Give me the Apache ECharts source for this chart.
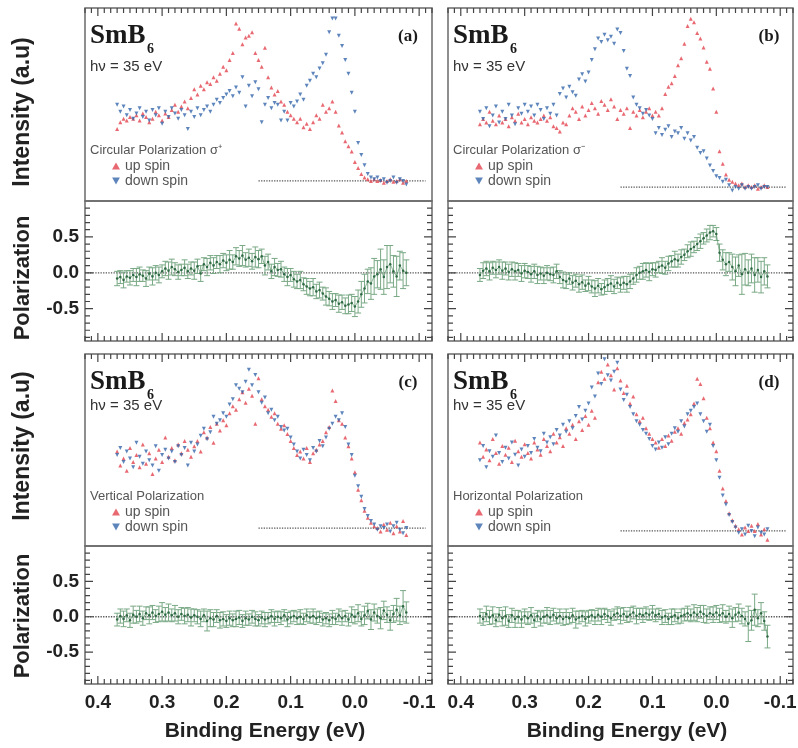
<!DOCTYPE html>
<html>
<head>
<meta charset="utf-8">
<script src="https://cdn.jsdelivr.net/npm/echarts@6/dist/echarts.min.js"></script>
<style>
html, body { margin: 0; padding: 0; background: #fff; }
#chart { width: 798px; height: 748px; }
</style>
</head>
<body>
<div id="chart"></div>
<script>
// Binding energy grid (eV), shared by every spectrum
const energy = [
  0.370,0.365,0.360,0.355,0.350,0.345,0.340,0.335,0.330,0.325,0.320,0.315,0.310,0.305,0.300,
  0.295,0.290,0.285,0.280,0.275,0.270,0.265,0.260,0.255,0.250,
  0.245,0.240,0.235,0.230,0.225,0.220,0.215,0.210,0.205,0.200,
  0.195,0.190,0.185,0.180,0.175,0.170,0.165,0.160,0.155,0.150,
  0.145,0.140,0.135,0.130,0.125,0.120,0.115,0.110,0.105,0.100,
  0.095,0.090,0.085,0.080,0.075,0.070,0.065,0.060,0.055,0.050,
  0.045,0.040,0.035,0.030,0.025,0.020,0.015,0.010,0.005,0.000,
  -0.005,-0.010,-0.015,-0.020,-0.025,-0.030,-0.035,-0.040,-0.045,-0.050,
  -0.055,-0.060,-0.065,-0.070,-0.075,-0.080
];

// (a) circular polarization sigma+
const upA = [
  0.30,0.34,0.36,0.35,0.37,0.36,0.38,0.35,0.39,0.37,0.34,0.36,0.40,0.38,0.35,
  0.39,0.37,0.41,0.44,0.40,0.43,0.46,0.42,0.48,0.53,
  0.50,0.55,0.53,0.57,0.56,0.60,0.58,0.62,0.66,0.64,
  0.70,0.74,0.91,0.88,0.79,0.83,0.84,0.86,0.74,0.70,
  0.66,0.77,0.60,0.54,0.50,0.52,0.46,0.44,0.40,0.38,
  0.36,0.34,0.36,0.31,0.33,0.30,0.34,0.38,0.36,0.44,
  0.40,0.42,0.46,0.40,0.32,0.28,0.23,0.20,0.17,0.11,
  0.075,0.04,0.02,0.01,0.00,0.01,0.00,0.005,-0.01,0.00,
  0.01,-0.005,0.00,0.01,-0.01,0.00
];
const downA = [
  0.44,0.40,0.43,0.38,0.41,0.36,0.39,0.42,0.37,0.40,0.35,0.41,0.38,0.42,0.33,
  0.40,0.37,0.42,0.39,0.36,0.41,0.38,0.30,0.40,0.37,
  0.42,0.38,0.41,0.43,0.40,0.44,0.47,0.45,0.48,0.50,
  0.52,0.49,0.54,0.51,0.60,0.43,0.55,0.49,0.57,0.53,
  0.34,0.44,0.48,0.42,0.45,0.44,0.35,0.40,0.35,0.45,
  0.43,0.46,0.50,0.47,0.55,0.58,0.62,0.60,0.65,0.68,
  0.73,0.86,0.94,0.94,0.84,0.78,0.70,0.62,0.51,0.40,
  0.22,0.15,0.09,0.04,0.02,0.01,0.02,0.00,0.01,-0.01,
  0.00,0.02,-0.01,0.01,0.00,-0.02
];
const polA = [
  -0.08,-0.06,-0.10,-0.05,-0.07,-0.03,-0.06,-0.02,-0.04,-0.08,-0.01,-0.05,0.00,-0.03,0.02,
  0.06,0.03,0.08,0.05,0.01,0.04,0.07,0.02,0.06,0.03,
  0.09,-0.01,0.12,0.08,0.14,0.10,0.15,0.12,0.17,0.14,
  0.18,0.15,0.23,0.20,0.24,0.18,0.21,0.16,0.22,0.19,
  0.23,0.10,0.15,0.02,0.08,0.04,0.05,-0.02,-0.06,-0.03,
  -0.09,-0.12,-0.10,-0.16,-0.19,-0.22,-0.20,-0.26,-0.24,-0.29,
  -0.33,-0.36,-0.40,-0.38,-0.43,-0.41,-0.46,-0.44,-0.42,-0.47,
  -0.40,-0.30,-0.22,-0.12,-0.15,-0.05,-0.02,0.05,-0.06,0.08,
  0.12,0.02,-0.05,0.10,0.03,0.00
];
const errA = [
  0.10,0.09,0.11,0.08,0.10,0.09,0.12,0.10,0.08,0.11,0.09,0.12,0.10,0.11,0.09,
  0.10,0.12,0.11,0.09,0.10,0.08,0.11,0.10,0.09,0.12,
  0.10,0.11,0.09,0.12,0.10,0.11,0.09,0.12,0.10,0.11,
  0.13,0.10,0.12,0.11,0.14,0.10,0.12,0.11,0.14,0.12,
  0.10,0.13,0.11,0.10,0.12,0.09,0.11,0.10,0.12,0.09,
  0.11,0.10,0.12,0.09,0.11,0.10,0.12,0.10,0.11,0.09,
  0.12,0.10,0.11,0.09,0.12,0.10,0.11,0.13,0.12,0.14,
  0.16,0.18,0.20,0.17,0.22,0.25,0.19,0.28,0.24,0.30,
  0.26,0.22,0.28,0.20,0.25,0.18
];

// (b) circular polarization sigma-
const upB = [
  0.35,0.38,0.36,0.42,0.37,0.35,0.40,0.36,0.38,0.34,0.39,0.37,0.41,0.36,0.38,
  0.35,0.39,0.37,0.36,0.38,0.40,0.37,0.39,0.34,0.33,
  0.31,0.36,0.35,0.40,0.44,0.42,0.38,0.45,0.40,0.43,
  0.47,0.44,0.41,0.48,0.46,0.43,0.49,0.45,0.38,0.43,
  0.41,0.44,0.33,0.42,0.40,0.43,0.39,0.42,0.44,0.40,
  0.42,0.40,0.44,0.52,0.56,0.58,0.62,0.68,0.72,0.80,
  0.90,0.94,0.92,0.86,0.83,0.78,0.70,0.66,0.55,0.42,
  0.20,0.13,0.07,0.04,0.03,0.02,0.01,0.02,0.00,0.01,
  0.00,0.01,-0.01,0.00,0.01,0.00
];
const downB = [
  0.42,0.38,0.44,0.34,0.40,0.45,0.36,0.42,0.38,0.46,0.40,0.35,0.44,0.41,0.46,
  0.42,0.45,0.40,0.46,0.43,0.38,0.44,0.41,0.46,0.40,
  0.52,0.55,0.50,0.56,0.53,0.51,0.60,0.63,0.59,0.64,
  0.71,0.77,0.83,0.81,0.85,0.82,0.84,0.80,0.88,0.86,
  0.76,0.66,0.62,0.50,0.46,0.44,0.41,0.43,0.40,0.38,
  0.30,0.33,0.29,0.32,0.34,0.28,0.31,0.30,0.33,0.27,
  0.30,0.26,0.28,0.22,0.19,0.20,0.16,0.12,0.09,0.06,
  0.05,0.03,0.04,0.01,-0.02,0.00,-0.01,0.01,-0.01,0.00,
  -0.01,0.00,0.01,-0.01,0.00,0.00
];
const polB = [
  -0.03,0.03,0.06,0.02,0.07,0.04,0.08,0.03,0.06,0.01,0.05,0.02,0.04,-0.01,0.03,
  0.01,-0.02,0.02,-0.03,-0.01,-0.04,0.00,-0.02,-0.03,0.02,
  -0.06,-0.10,-0.12,-0.08,-0.14,-0.11,-0.16,-0.13,-0.18,-0.15,
  -0.19,-0.22,-0.18,-0.23,-0.20,-0.17,-0.15,-0.19,-0.14,-0.17,
  -0.14,-0.16,-0.12,-0.08,-0.03,0.00,0.02,0.04,0.01,0.05,
  0.04,0.08,0.10,0.07,0.13,0.16,0.19,0.17,0.22,0.25,
  0.30,0.33,0.36,0.40,0.44,0.48,0.52,0.56,0.58,0.54,
  0.28,0.18,0.12,0.15,0.08,0.02,0.10,-0.02,0.05,0.00,
  0.06,-0.03,0.04,-0.06,0.02,-0.05
];
const errB = [
  0.09,0.11,0.10,0.12,0.09,0.11,0.10,0.12,0.09,0.11,0.10,0.12,0.09,0.11,0.10,
  0.09,0.11,0.10,0.12,0.09,0.11,0.10,0.09,0.11,0.10,
  0.09,0.11,0.10,0.08,0.10,0.09,0.11,0.10,0.08,0.10,
  0.09,0.11,0.10,0.08,0.10,0.09,0.11,0.10,0.08,0.10,
  0.09,0.11,0.10,0.08,0.10,0.09,0.11,0.10,0.12,0.09,
  0.10,0.08,0.11,0.09,0.10,0.08,0.11,0.09,0.10,0.08,
  0.09,0.10,0.08,0.09,0.10,0.08,0.09,0.10,0.08,0.09,
  0.12,0.14,0.16,0.13,0.18,0.20,0.15,0.28,0.22,0.18,
  0.20,0.24,0.17,0.22,0.19,0.16
];

// (c) vertical polarization
const upC = [
  0.44,0.36,0.40,0.33,0.46,0.38,0.42,0.35,0.48,0.37,0.43,0.31,0.40,0.45,0.38,
  0.52,0.41,0.46,0.39,0.48,0.43,0.50,0.45,0.41,0.47,
  0.50,0.44,0.55,0.52,0.58,0.49,0.60,0.56,0.62,0.59,
  0.66,0.70,0.68,0.74,0.78,0.72,0.80,0.76,0.60,0.86,
  0.74,0.70,0.68,0.64,0.66,0.60,0.57,0.59,0.54,0.50,
  0.46,0.42,0.44,0.40,0.46,0.38,0.43,0.45,0.48,0.50,
  0.55,0.58,0.79,0.73,0.62,0.60,0.52,0.47,0.40,0.32,
  0.22,0.16,0.10,0.06,0.03,0.01,0.00,-0.02,0.02,-0.01,
  0.03,-0.03,0.01,-0.02,0.04,-0.04
];
const downC = [
  0.42,0.46,0.38,0.44,0.40,0.35,0.49,0.41,0.37,0.44,0.39,0.36,0.47,0.33,0.42,
  0.45,0.40,0.44,0.38,0.47,0.42,0.46,0.36,0.49,0.44,
  0.48,0.53,0.57,0.51,0.55,0.64,0.60,0.62,0.66,0.64,
  0.71,0.74,0.82,0.80,0.78,0.84,0.91,0.82,0.88,0.78,
  0.72,0.75,0.66,0.68,0.62,0.64,0.58,0.56,0.57,0.52,
  0.48,0.44,0.40,0.45,0.42,0.39,0.46,0.44,0.50,0.47,
  0.52,0.57,0.60,0.64,0.62,0.66,0.58,0.48,0.42,0.30,
  0.24,0.18,0.11,0.07,0.04,0.02,-0.01,0.01,0.00,0.02,
  -0.02,0.01,0.03,-0.01,-0.03,0.00
];
const polC = [
  -0.04,0.01,-0.03,0.02,-0.05,0.03,0.00,0.04,-0.02,0.05,0.02,0.06,0.01,0.04,0.07,
  0.03,0.06,0.02,0.05,0.00,0.04,0.01,0.03,-0.01,0.02,
  0.00,-0.03,0.02,-0.06,-0.02,-0.04,0.01,-0.05,-0.03,-0.06,
  -0.02,-0.05,-0.03,-0.01,-0.06,-0.02,-0.04,0.00,-0.03,-0.05,
  -0.01,-0.04,-0.02,0.01,-0.03,0.00,-0.02,0.02,-0.04,-0.01,
  0.01,-0.02,0.00,-0.03,0.02,-0.01,0.01,-0.02,0.00,-0.04,
  -0.02,-0.05,-0.01,-0.03,0.02,-0.02,0.01,-0.04,0.03,0.00,
  0.05,-0.03,0.02,0.08,-0.04,0.06,0.01,-0.02,0.09,0.03,
  -0.05,0.04,0.10,0.02,0.15,0.06
];
const errC = [
  0.09,0.10,0.11,0.09,0.10,0.12,0.09,0.11,0.10,0.09,0.12,0.10,0.09,0.11,0.13,
  0.10,0.12,0.09,0.11,0.10,0.09,0.11,0.10,0.12,0.09,
  0.10,0.11,0.09,0.14,0.12,0.10,0.09,0.11,0.10,0.09,
  0.10,0.09,0.11,0.10,0.09,0.10,0.08,0.09,0.10,0.08,
  0.09,0.10,0.08,0.09,0.10,0.08,0.09,0.08,0.10,0.09,
  0.08,0.09,0.10,0.08,0.09,0.08,0.10,0.09,0.08,0.09,
  0.08,0.09,0.10,0.08,0.09,0.10,0.08,0.09,0.11,0.10,
  0.12,0.10,0.13,0.11,0.14,0.12,0.10,0.15,0.13,0.11,
  0.14,0.12,0.16,0.13,0.22,0.15
];

// (d) horizontal polarization
const upD = [
  0.50,0.42,0.46,0.40,0.52,0.44,0.38,0.48,0.43,0.47,0.39,0.51,0.45,0.42,0.49,
  0.44,0.41,0.50,0.46,0.43,0.52,0.48,0.45,0.55,0.50,
  0.53,0.48,0.58,0.55,0.60,0.52,0.62,0.57,0.65,0.60,
  0.68,0.64,0.84,0.90,0.86,0.94,0.88,0.80,0.92,0.85,
  0.78,0.82,0.72,0.76,0.66,0.62,0.64,0.58,0.55,0.52,
  0.50,0.47,0.52,0.48,0.54,0.51,0.56,0.58,0.55,0.61,
  0.63,0.66,0.72,0.86,0.83,0.75,0.64,0.58,0.50,0.45,
  0.34,0.24,0.17,0.10,0.06,0.03,0.01,-0.02,0.02,0.00,
  0.03,0.00,0.04,-0.02,0.01,-0.05
];
const downD = [
  0.40,0.48,0.36,0.45,0.42,0.54,0.44,0.39,0.47,0.41,0.50,0.43,0.37,0.46,0.42,
  0.48,0.44,0.52,0.47,0.45,0.55,0.50,0.53,0.49,0.57,
  0.54,0.60,0.56,0.62,0.58,0.65,0.70,0.63,0.68,0.72,
  0.81,0.76,0.89,0.83,0.97,0.88,0.85,0.90,0.95,0.80,
  0.74,0.77,0.70,0.66,0.62,0.60,0.57,0.55,0.52,0.48,
  0.46,0.50,0.47,0.53,0.49,0.55,0.58,0.56,0.62,0.59,
  0.66,0.68,0.70,0.72,0.66,0.62,0.56,0.60,0.48,0.40,
  0.30,0.20,0.15,0.09,0.05,0.02,-0.01,0.01,-0.02,0.03,
  0.00,-0.03,0.02,-0.01,-0.02,0.01
];
const polD = [
  0.01,-0.03,0.04,-0.01,0.02,-0.05,0.03,-0.02,0.01,-0.06,0.02,-0.03,0.00,-0.04,0.01,
  -0.02,0.02,-0.05,0.01,-0.03,0.00,0.02,-0.01,0.03,-0.02,
  0.01,-0.03,0.00,-0.02,0.02,-0.04,-0.01,0.01,-0.03,0.00,
  0.02,-0.01,0.03,0.00,0.04,0.01,-0.02,0.03,0.05,0.01,
  0.04,0.00,0.03,0.06,0.01,0.04,0.02,0.05,0.03,0.06,
  0.02,0.04,-0.01,0.01,-0.03,0.00,0.02,-0.02,0.01,0.03,
  0.05,0.02,0.06,0.03,0.07,0.04,0.01,0.05,0.03,0.06,
  0.02,0.05,0.00,0.04,-0.02,0.03,0.06,0.01,-0.03,-0.10,
  -0.05,0.10,-0.02,0.05,-0.06,-0.28
];
const errD = [
  0.10,0.09,0.11,0.10,0.12,0.09,0.10,0.11,0.13,0.09,0.10,0.12,0.09,0.11,0.10,
  0.09,0.11,0.10,0.08,0.10,0.09,0.11,0.10,0.09,0.08,
  0.10,0.09,0.11,0.08,0.10,0.12,0.09,0.08,0.10,0.09,
  0.08,0.10,0.09,0.11,0.08,0.09,0.10,0.08,0.09,0.11,
  0.09,0.08,0.10,0.09,0.11,0.08,0.10,0.09,0.08,0.10,
  0.09,0.08,0.10,0.09,0.08,0.11,0.09,0.08,0.10,0.09,
  0.10,0.09,0.11,0.10,0.09,0.12,0.10,0.09,0.11,0.10,
  0.10,0.12,0.09,0.11,0.13,0.10,0.12,0.11,0.10,0.25,
  0.14,0.22,0.12,0.15,0.13,0.16
];

// Zero-intensity reference segment (eV)
const baselineSpan = [0.15, -0.11];

// Tick labels
const xTickLabels = [0.4, 0.3, 0.2, 0.1, 0.0, -0.1];
const yTickLabels = [0.5, 0.0, -0.5];

// Panel annotations
const panelLetters = ['(a)', '(b)', '(c)', '(d)'];
const polarizationModes = [
  'Circular Polarization σ\u207A',
  'Circular Polarization σ\u207B',
  'Vertical Polarization',
  'Horizontal Polarization'
];
const sampleName = 'SmB';
const sampleSub = '6';
const photonEnergy = 'hν = 35 eV';
const spinNames = ['up spin', 'down spin'];

// ---------------------------------------------------------------
const X_MIN = -0.12, X_MAX = 0.42;
const POL_MIN = -0.95, POL_MAX = 1.0;
const RED = '#e2444f', BLUE = '#3466aa';
const GREEN_BAR = '#79a985', GREEN_PT = '#2f6a44';
const AXIS_C = '#6a6a6a';
const TICK_C = '#444';
const SANS = '"Liberation Sans", Arial, sans-serif';
const SERIF = '"Liberation Serif", "Times New Roman", serif';

// tick positions along the frames
const minorX = [];
for (let k = -12; k <= 42; k++) if (k % 10 !== 0) minorX.push(k / 100);
const minorY = [];
for (let k = -9; k <= 9; k++) if (k % 5 !== 0) minorY.push(k / 10);

const panels = [
  { up: upA, down: downA, pol: polA, err: errA, left: 85,  width: 347, top: 8,   intH: 193, polH: 140, yMin: -0.116, xLabels: false, yLabels: true },
  { up: upB, down: downB, pol: polB, err: errB, left: 448, width: 345, top: 8,   intH: 193, polH: 140, yMin: -0.078, xLabels: false, yLabels: false },
  { up: upC, down: downC, pol: polC, err: errC, left: 85,  width: 347, top: 354, intH: 192, polH: 138, yMin: -0.103, xLabels: true,  yLabels: true },
  { up: upD, down: downD, pol: polD, err: errD, left: 448, width: 345, top: 354, intH: 192, polH: 138, yMin: -0.085, xLabels: true,  yLabels: false }
];

const grids = [], xAxes = [], yAxes = [], series = [], legends = [], graphics = [];
const hiddenLine = { show: false, onZero: false };
const labelFont = { fontFamily: SANS, fontWeight: 'bold', fontSize: 19, color: '#222' };

function addXAxis(gridIndex, position, showLabels) {
  xAxes.push({ type: 'value', gridIndex, position, inverse: true, min: X_MIN, max: X_MAX,
    axisLine: hiddenLine, splitLine: { show: false }, axisTick: { show: false },
    axisLabel: Object.assign({ show: showLabels, customValues: xTickLabels, margin: 9,
      formatter: v => Number(v).toFixed(1) }, labelFont) });
  return xAxes.length - 1;
}

// Frame ticks drawn as broken line series in data space.
// edge: coordinate of the frame side, unitPerPx: data units per pixel, dir: inward direction.
function xTickSeries(xAxisIndex, yAxisIndex, edge, unitPerPx, dir) {
  const data = [];
  xTickLabels.map(v => [v, 8]).concat(minorX.map(v => [v, 5])).forEach(([v, len]) => {
    data.push([v, edge], [v, edge + dir * len * unitPerPx], [v, '-']);
  });
  return { type: 'line', xAxisIndex, yAxisIndex, data, symbol: 'none', silent: true,
    connectNulls: false, clip: false, z: 6, lineStyle: { color: TICK_C, width: 1.2 } };
}
function yTickSeries(xAxisIndex, yAxisIndex, edge, unitPerPx, dir) {
  const data = [];
  yTickLabels.map(v => [v, 8]).concat(minorY.map(v => [v, 5])).forEach(([v, len]) => {
    data.push([edge, v], [edge + dir * len * unitPerPx, v], ['-', v]);
  });
  return { type: 'line', xAxisIndex, yAxisIndex, data, symbol: 'none', silent: true,
    connectNulls: false, clip: false, z: 6, lineStyle: { color: TICK_C, width: 1.2 } };
}

function errorBarRender(params, api) {
  const x = api.value(0), v = api.value(1), e = api.value(2);
  const hi = api.coord([x, v + e]);
  const lo = api.coord([x, v - e]);
  const cap = 3;
  const st = { stroke: GREEN_BAR, lineWidth: 1 };
  return { type: 'group', children: [
    { type: 'line', shape: { x1: hi[0], y1: hi[1], x2: lo[0], y2: lo[1] }, style: st },
    { type: 'line', shape: { x1: hi[0] - cap, y1: hi[1], x2: hi[0] + cap, y2: hi[1] }, style: st },
    { type: 'line', shape: { x1: lo[0] - cap, y1: lo[1], x2: lo[0] + cap, y2: lo[1] }, style: st }
  ] };
}

function text(x, y, str, font, fill, align, extra) {
  return Object.assign({ type: 'text', x, y, silent: true,
    style: { text: str, font, fill, textAlign: align || 'left', align: align || 'left',
      textVerticalAlign: 'middle', verticalAlign: 'middle' } }, extra || {});
}

panels.forEach((p, i) => {
  const frame = { show: true, borderColor: AXIS_C, borderWidth: 1.5, backgroundColor: 'transparent',
    outerBoundsMode: 'none', containLabel: false };
  const gi = grids.length;
  grids.push(Object.assign({ left: p.left, top: p.top, width: p.width, height: p.intH }, frame));
  const gp = grids.length;
  grids.push(Object.assign({ left: p.left, top: p.top + p.intH, width: p.width, height: p.polH }, frame));

  const xi = addXAxis(gi, 'top', false);
  const yi = yAxes.length;
  yAxes.push({ type: 'value', gridIndex: gi, min: p.yMin, max: 1.0, show: false, axisLine: hiddenLine });

  const xp = addXAxis(gp, 'bottom', p.xLabels);
  const yp = yAxes.length;
  yAxes.push({ type: 'value', gridIndex: gp, position: 'left', min: POL_MIN, max: POL_MAX,
    axisLine: hiddenLine, splitLine: { show: false }, axisTick: { show: false },
    axisLabel: Object.assign({ show: p.yLabels, customValues: yTickLabels, margin: 6,
      formatter: v => Number(v).toFixed(1) }, labelFont) });

  // frame ticks
  const xPerPx = (X_MAX - X_MIN) / p.width;
  series.push(xTickSeries(xi, yi, 1.0, (1.0 - p.yMin) / p.intH, -1));
  series.push(xTickSeries(xp, yp, POL_MIN, (POL_MAX - POL_MIN) / p.polH, 1));
  series.push(yTickSeries(xp, yp, X_MAX, xPerPx, -1));
  series.push(yTickSeries(xp, yp, X_MIN, xPerPx, 1));

  // spin-resolved spectra
  series.push({ type: 'line', xAxisIndex: xi, yAxisIndex: yi, silent: true, symbol: 'none', z: 1,
    data: [[baselineSpan[0], 0], [baselineSpan[1], 0]],
    lineStyle: { type: 'dotted', color: '#555', width: 1.3 } });
  series.push({ type: 'scatter', name: spinNames[0], xAxisIndex: xi, yAxisIndex: yi, z: 3,
    data: energy.map((e, k) => [e, p.up[k]]), symbol: 'triangle', symbolSize: 4,
    itemStyle: { color: RED } });
  series.push({ type: 'scatter', name: spinNames[1], xAxisIndex: xi, yAxisIndex: yi, z: 3,
    data: energy.map((e, k) => [e, p.down[k]]), symbol: 'triangle', symbolRotate: 180, symbolSize: 4,
    itemStyle: { color: BLUE } });

  // spin polarization with error bars
  series.push({ type: 'line', xAxisIndex: xp, yAxisIndex: yp, silent: true, symbol: 'none', z: 1,
    data: [[X_MIN, 0], [X_MAX, 0]],
    lineStyle: { type: 'dotted', color: '#555', width: 1.3 } });
  series.push({ type: 'custom', xAxisIndex: xp, yAxisIndex: yp, silent: true, z: 2,
    data: energy.map((e, k) => [e, p.pol[k], p.err[k]]),
    encode: { x: 0, y: 1 }, renderItem: errorBarRender });
  series.push({ type: 'line', xAxisIndex: xp, yAxisIndex: yp, silent: true, z: 3,
    data: energy.map((e, k) => [e, p.pol[k]]),
    symbol: 'circle', symbolSize: 2.5, showAllSymbol: true,
    itemStyle: { color: GREEN_PT },
    lineStyle: { color: '#4d8a5e', width: 0.8, opacity: 0.8 } });

  // legend
  legends.push({ left: p.left + 27, top: p.top + 151, orient: 'vertical', padding: 0,
    itemWidth: 8, itemHeight: 7, itemGap: 1, selectedMode: false,
    data: [{ name: spinNames[0], icon: 'triangle' },
           { name: spinNames[1], icon: 'path://M0,0L10,0L5,9Z' }],
    textStyle: { fontFamily: SANS, fontSize: 14, color: '#555', lineHeight: 14 } });

  // annotations
  graphics.push(text(p.left + 5, p.top + 28, sampleName, 'bold 27px ' + SERIF, '#1a1a1a'));
  graphics.push(text(p.left + 62, p.top + 41, sampleSub, 'bold 14px ' + SERIF, '#1a1a1a'));
  graphics.push(text(p.left + 5, p.top + (i < 2 ? 59 : 52), photonEnergy, '15px ' + SANS, '#333'));
  graphics.push(text(p.left + 5, p.top + 142, polarizationModes[i], '13px ' + SANS, '#555'));
  graphics.push(text(p.left + p.width - 24, p.top + 29, panelLetters[i], 'bold 17px ' + SERIF, '#1a1a1a', 'center'));
});

// axis titles
graphics.push(text(23, 112, 'Intensity (a.u)', 'bold 23px ' + SANS, '#222', 'center', { rotation: Math.PI / 2 }));
graphics.push(text(23, 278, 'Polarization', 'bold 22px ' + SANS, '#222', 'center', { rotation: Math.PI / 2 }));
graphics.push(text(23, 446, 'Intensity (a.u)', 'bold 23px ' + SANS, '#222', 'center', { rotation: Math.PI / 2 }));
graphics.push(text(23, 616, 'Polarization', 'bold 22px ' + SANS, '#222', 'center', { rotation: Math.PI / 2 }));
graphics.push(text(265, 731, 'Binding Energy (eV)', 'bold 21px ' + SANS, '#222', 'center'));
graphics.push(text(627, 731, 'Binding Energy (eV)', 'bold 21px ' + SANS, '#222', 'center'));

const chart = echarts.init(document.getElementById('chart'), null, { renderer: 'canvas' });
chart.setOption({
  backgroundColor: '#fff',
  animation: false,
  grid: grids,
  xAxis: xAxes,
  yAxis: yAxes,
  legend: legends,
  series: series,
  graphic: graphics
});
</script>
</body>
</html>
